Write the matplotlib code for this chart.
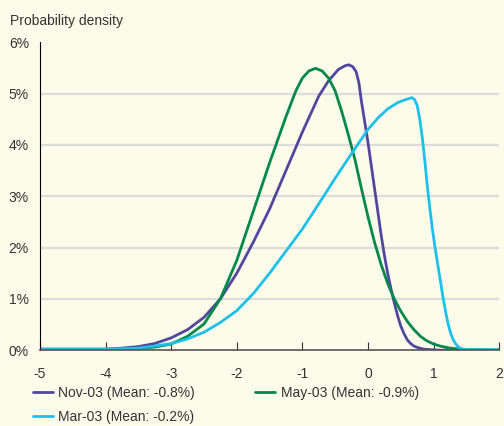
import matplotlib.pyplot as plt
from matplotlib.ticker import FuncFormatter

plt.rcParams['font.family'] = ['Liberation Sans', 'DejaVu Sans']
plt.rcParams['axes.unicode_minus'] = False

# values (x in %, density in %)
nov_x = [-5, -4, -3.75, -3.5, -3.25, -3, -2.75, -2.5, -2.25, -2, -1.75, -1.5, -1.25,
         -1, -0.75, -0.6, -0.45, -0.35, -0.29, -0.23, -0.18, -0.14, -0.1, -0.05,
         0, 0.05, 0.1, 0.15, 0.2, 0.25, 0.3, 0.35, 0.4, 0.45, 0.5, 0.55, 0.6,
         0.65, 0.7, 0.76, 0.85, 0.95, 1.1, 2.0]
nov_y = [0.02, 0.02, 0.04, 0.07, 0.13, 0.24, 0.4, 0.64, 1.0, 1.5, 2.1, 2.75, 3.5,
         4.25, 4.95, 5.25, 5.47, 5.54, 5.56, 5.52, 5.42, 5.22, 4.85, 4.45,
         4.05, 3.6, 3.15, 2.7, 2.25, 1.85, 1.5, 1.2, 0.93, 0.68, 0.47, 0.32, 0.2,
         0.13, 0.08, 0.05, 0.02, 0.01, 0.0, 0.0]

may_x = [-5, -4, -3.75, -3.5, -3.25, -3, -2.75, -2.5, -2.25, -2, -1.75, -1.5, -1.25,
         -1.1, -1.0, -0.9, -0.8, -0.7, -0.6, -0.5, -0.4, -0.3, -0.2, -0.1, 0,
         0.1, 0.2, 0.3, 0.4, 0.5, 0.6, 0.7, 0.8, 0.9, 1.0, 1.1, 1.25, 1.5, 2.0]
may_y = [0.0, 0.0, 0.01, 0.03, 0.06, 0.12, 0.27, 0.51, 1.0, 1.75, 2.7, 3.65, 4.55,
         5.05, 5.3, 5.44, 5.49, 5.44, 5.3, 5.05, 4.65, 4.2, 3.72, 3.15, 2.6,
         2.1, 1.67, 1.3, 1.0, 0.76, 0.56, 0.4, 0.27, 0.18, 0.12, 0.08, 0.04, 0.01, 0.0]

mar_x = [-5, -4, -3.75, -3.5, -3.25, -3, -2.75, -2.5, -2.25, -2, -1.75, -1.5, -1.25,
         -1, -0.75, -0.5, -0.25, 0, 0.15, 0.3, 0.45, 0.55, 0.62, 0.67, 0.71,
         0.75, 0.79, 0.83, 0.87, 0.9, 0.94, 0.98, 1.02, 1.06, 1.1, 1.14, 1.18,
         1.22, 1.26, 1.3, 1.35, 1.4, 1.45, 1.6, 2.0]
mar_y = [0.02, 0.02, 0.03, 0.04, 0.08, 0.13, 0.22, 0.35, 0.54, 0.77, 1.1, 1.5, 1.93,
         2.36, 2.85, 3.35, 3.83, 4.3, 4.52, 4.7, 4.82, 4.87, 4.9, 4.92, 4.88,
         4.77, 4.5, 4.12, 3.65, 3.25, 2.8, 2.38, 2.02, 1.7, 1.38, 1.06, 0.77,
         0.52, 0.33, 0.2, 0.1, 0.04, 0.02, 0.01, 0.01]

bg = '#fdfbea'
fig = plt.figure(figsize=(5.04, 4.26), dpi=100, facecolor=bg)
ax = fig.add_axes([0.0794, 0.178, 0.911, 0.723], facecolor=bg)

for v in [1, 2, 3, 4, 5]:
    ax.axhline(v, color='#dcdcdc', lw=1.6, zorder=0)

kw = dict(lw=2, solid_joinstyle='round', solid_capstyle='round')
l_nov, = ax.plot(nov_x, nov_y, color='#51479e', label='Nov-03 (Mean: -0.8%)', **kw)
l_may, = ax.plot(may_x, may_y, color='#00894a', label='May-03 (Mean: -0.9%)', **kw)
l_mar, = ax.plot(mar_x, mar_y, color='#1ec0ea', label='Mar-03 (Mean: -0.2%)', **kw)

ax.set_xlim(-5, 2)
ax.set_ylim(0, 6)
ax.set_xticks(range(-5, 3))
ax.set_yticks(range(0, 7))
ax.yaxis.set_major_formatter(FuncFormatter(lambda v, p: f'{int(v)}%'))

for s in ['top', 'right']:
    ax.spines[s].set_visible(False)
ax.spines['left'].set_color('black')
ax.spines['bottom'].set_color('#555555')
ax.spines['bottom'].set_linewidth(1.2)
ax.tick_params(axis='x', direction='in', length=6, color='#333333',
               labelsize=10, labelcolor='#333333', pad=12)
ax.tick_params(axis='y', length=0, labelsize=10, labelcolor='#333333', pad=8)

fig.text(0.02, 0.95, 'Probability density', fontsize=10, color='#333333',
         va='center', ha='left')

fig.legend(handles=[l_nov, l_mar, l_may], loc='upper left',
           bbox_to_anchor=(0.065, 0.094), ncol=2, frameon=False, fontsize=10,
           handlelength=1.45, handletextpad=0.4, columnspacing=4.3,
           labelspacing=0.7, borderaxespad=0, borderpad=0,
           labelcolor='#333333')

fig.savefig('out.png', dpi=100, facecolor=bg)
